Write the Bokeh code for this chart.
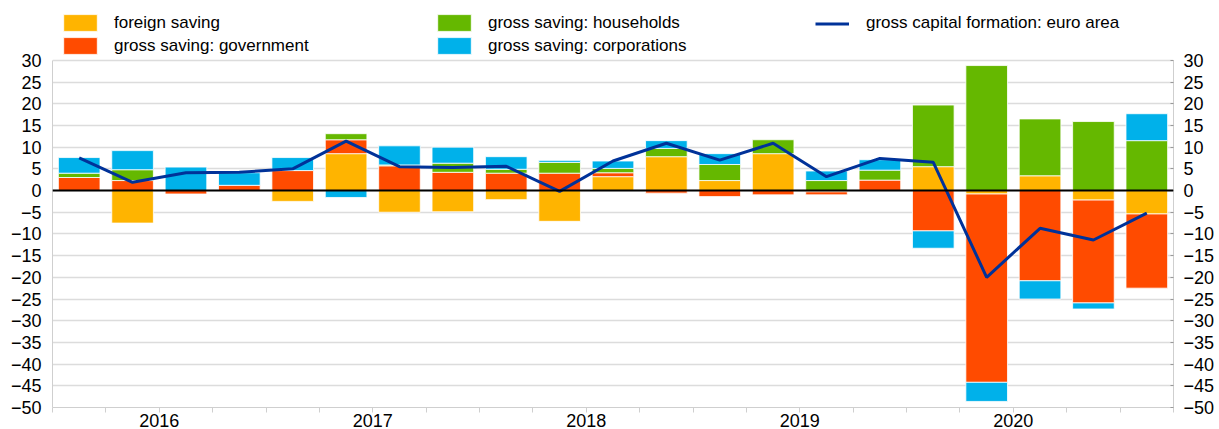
from bokeh.plotting import figure
from bokeh.models import Range1d, LinearAxis, FixedTicker, Span, Legend, LegendItem
from bokeh.embed import file_html
from bokeh.resources import INLINE

quarters = ["2016Q1", "2016Q2", "2016Q3", "2016Q4",
            "2017Q1", "2017Q2", "2017Q3", "2017Q4",
            "2018Q1", "2018Q2", "2018Q3", "2018Q4",
            "2019Q1", "2019Q2", "2019Q3", "2019Q4",
            "2020Q1", "2020Q2", "2020Q3", "2020Q4",
            "2021Q1"]
years = ["2016", "2017", "2018", "2019", "2020"]

foreign_saving = [0, -7.5, 0, 0, -2.5, 8.5, -5.0, -4.9, -2.1, -7.1, 3.2, 7.8,
                  2.3, 8.5, -0.3, 0, 5.5, -0.8, 3.4, -2.2, -5.4]
government = [3.0, 2.3, -0.8, 1.2, 4.6, 3.2, 5.7, 4.2, 4.0, 4.0, 0.9, -0.6,
              -1.4, -1.0, -0.7, 2.4, -9.3, -43.4, -20.8, -23.7, -17.1]
households = [1.0, 2.5, 0, 0, 0, 1.4, 0.2, 2.1, 0.9, 2.5, 1.0, 1.9,
              3.7, 3.2, 2.3, 2.3, 14.2, 28.8, 13.1, 15.9, 11.5]
corporations = [3.6, 4.4, 5.4, 2.9, 3.0, -1.6, 4.4, 3.7, 2.9, 0.45, 1.7, 1.8,
                2.5, 0, 2.2, 2.4, -4.0, -4.4, -4.2, -1.4, 6.2]
capital_formation = [7.5, 1.9, 4.1, 4.2, 5.0, 11.4, 5.5, 5.3, 5.6, -0.2, 6.8, 10.9,
                     7.0, 10.9, 3.2, 7.4, 6.5, -20.0, -8.7, -11.4, -5.2]

series = [
    ("foreign saving", foreign_saving, "#FFB400"),
    ("gross saving: government", government, "#FF4B00"),
    ("gross saving: households", households, "#65B800"),
    ("gross saving: corporations", corporations, "#00B1EA"),
]

FONT = "Liberation Sans"
n = len(quarters)
xpos = [i + 0.5 for i in range(n)]

Y_MIN, Y_MAX = -50, 30
# extra room above the axis maximum holds the legend inside the frame
Y_TOP = Y_MAX + 60 * (Y_MAX - Y_MIN) / 348.0

p = figure(width=1217, height=429, x_range=Range1d(0, n), y_range=Range1d(Y_MIN, Y_TOP),
           output_backend="svg", toolbar_location=None,
           min_border_left=52, min_border_right=39, min_border_top=0, min_border_bottom=21)
p.outline_line_color = None
p.background_fill_color = "white"
p.border_fill_color = "white"

pos = [0.0] * n
neg = [0.0] * n
bar_renderers = {}
for name, vals, color in series:
    xs, bots, tops = [], [], []
    for i, v in enumerate(vals):
        if v == 0:
            continue
        if v > 0:
            b = pos[i]; t = b + v; pos[i] = t
        else:
            b = neg[i]; t = b + v; neg[i] = t
        xs.append(xpos[i]); bots.append(b); tops.append(t)
    r = p.vbar(x=xs, bottom=bots, top=tops, width=0.78, fill_color=color,
               line_color="white", line_width=1, line_alpha=0.8)
    bar_renderers[name] = r

zero = Span(location=0, dimension="width", line_color="black", line_width=2)
p.add_layout(zero)

line_r = p.line(xpos, capital_formation, line_color="#003299", line_width=3)

yticks = list(range(Y_MIN, Y_MAX + 1, 5))
p.ygrid.ticker = FixedTicker(ticks=yticks)
p.ygrid.grid_line_color = "#dcdcdc"
p.ygrid.grid_line_width = 1.5
p.xgrid.visible = False

yax = p.yaxis[0]
yax.ticker = FixedTicker(ticks=yticks)
yax.bounds = (Y_MIN, Y_MAX)
yax.major_tick_out = 0
yax.major_tick_in = 0
yax.minor_tick_out = 0
yax.minor_tick_in = 0
yax.axis_line_color = "#cfcfcf"
yax.major_label_text_font = FONT
yax.major_label_text_font_size = "18px"
yax.major_label_text_color = "black"
yax.major_label_standoff = 11

rax = LinearAxis(ticker=FixedTicker(ticks=yticks), bounds=(Y_MIN, Y_MAX))
rax.major_tick_out = 0
rax.major_tick_in = 3
rax.major_tick_line_color = "#999999"
rax.minor_tick_out = 0
rax.minor_tick_in = 0
rax.axis_line_color = "#cfcfcf"
rax.major_label_text_font = FONT
rax.major_label_text_font_size = "18px"
rax.major_label_text_color = "black"
rax.major_label_standoff = 10
p.add_layout(rax, "right")

xax = p.xaxis[0]
year_centers = [2 + 4 * k for k in range(len(years))]
xax.ticker = FixedTicker(ticks=year_centers, minor_ticks=list(range(0, n + 1)))
xax.major_label_overrides = {c: y for c, y in zip(year_centers, years)}
xax.major_tick_out = 0
xax.major_tick_in = 0
xax.minor_tick_out = 5
xax.minor_tick_in = 0
xax.minor_tick_line_color = "#cfcfcf"
xax.axis_line_color = "#cfcfcf"
xax.major_label_text_font = FONT
xax.major_label_text_font_size = "18px"
xax.major_label_text_color = "black"
xax.major_label_standoff = 1


def make_legend(items, x, y, gw, gh, standoff, spacing):
    lg = Legend(items=items, location=(x, y), orientation="vertical",
                glyph_width=gw, glyph_height=gh, label_height=gh, spacing=spacing,
                label_standoff=standoff, padding=0, margin=0,
                border_line_color=None, background_fill_alpha=0,
                label_text_font=FONT, label_text_font_size="17px",
                label_text_color="black")
    p.add_layout(lg, "center")


make_legend([LegendItem(label="foreign saving", renderers=[bar_renderers["foreign saving"]]),
             LegendItem(label="gross saving: government", renderers=[bar_renderers["gross saving: government"]])],
            7, 351, 42, 21, 13, 2)
make_legend([LegendItem(label="gross saving: households", renderers=[bar_renderers["gross saving: households"]]),
             LegendItem(label="gross saving: corporations", renderers=[bar_renderers["gross saving: corporations"]])],
            381, 351, 42, 21, 13, 2)
make_legend([LegendItem(label="gross capital formation: euro area", renderers=[line_r])],
            763, 374, 34, 17, 17, 6)

open("out.html", "w").write(file_html(p, INLINE))
